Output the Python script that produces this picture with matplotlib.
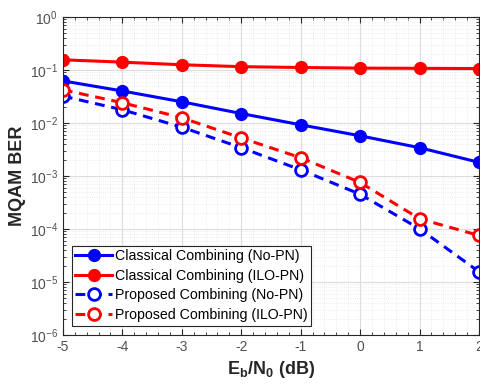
import matplotlib
matplotlib.use("Agg")
import matplotlib.pyplot as plt
from matplotlib.ticker import LogLocator, NullFormatter

plt.rcParams['font.family'] = ['Liberation Sans', 'DejaVu Sans']
plt.rcParams['mathtext.fontset'] = 'custom'
plt.rcParams['mathtext.rm'] = 'Liberation Sans'
plt.rcParams['mathtext.bf'] = 'Liberation Sans:bold'
plt.rcParams['mathtext.it'] = 'Liberation Sans:italic'
plt.rcParams['axes.unicode_minus'] = False

ebn0 = [-5, -4, -3, -2, -1, 0, 1, 2]
classical_nopn = [0.062, 0.040, 0.025, 0.015, 0.0092, 0.0057, 0.0034, 0.0018]
classical_ilo = [0.155, 0.14, 0.125, 0.115, 0.111, 0.108, 0.107, 0.106]
proposed_nopn = [0.032, 0.0177, 0.0083, 0.0034, 0.0013, 0.00045, 1.0e-4, 1.55e-5]
proposed_ilo = [0.042, 0.024, 0.0125, 0.0052, 0.0022, 0.00075, 1.55e-4, 7.5e-5]
labels = ["Classical Combining (No-PN)", "Classical Combining (ILO-PN)",
          "Proposed Combining (No-PN)", "Proposed Combining (ILO-PN)"]

fig = plt.figure(figsize=(4.8, 3.84), dpi=100)
ax = fig.add_axes([0.131, 0.128, 0.867, 0.828])

lw = 2.2
ms = 8.5
ax.semilogy(ebn0, classical_nopn, '-o', color='#0000ff', lw=lw, ms=ms, label=labels[0])
ax.semilogy(ebn0, classical_ilo, '-o', color='#ff0000', lw=lw, ms=ms, label=labels[1])
ax.semilogy(ebn0, proposed_nopn, '--o', color='#0000ff', lw=lw, ms=ms, mfc='white', mew=2, label=labels[2], dashes=(3.2, 2.2))
ax.semilogy(ebn0, proposed_ilo, '--o', color='#ff0000', lw=lw, ms=ms, mfc='white', mew=2, label=labels[3], dashes=(3.2, 2.2))

ax.set_xlim(-5, 2)
ax.set_ylim(1e-6, 1)
ax.set_xticks(ebn0)
ax.yaxis.set_major_locator(LogLocator(base=10, numticks=10))
ax.yaxis.set_minor_locator(LogLocator(base=10, subs=range(2, 10), numticks=100))
ax.yaxis.set_minor_formatter(NullFormatter())
ax.xaxis.set_minor_locator(matplotlib.ticker.AutoMinorLocator(5))

ax.grid(True, which='major', color='#dcdcdc', lw=0.8)
ax.grid(True, which='minor', color='#e6e6e6', lw=0.6, ls=':')
ax.set_axisbelow(True)
ax.tick_params(which='both', direction='in', top=True, right=True, colors='#262626', labelcolor='#505050', labelsize=10)
ax.tick_params(which='minor', length=2)
ax.tick_params(which='major', length=4)
for s in ax.spines.values():
    s.set_color('#262626')
    s.set_linewidth(0.8)

ax.set_xlabel(r'$\mathbf{E_b/N_0}$ (dB)', fontsize=13, fontweight='bold', labelpad=4, color='#262626')
ax.set_ylabel('MQAM BER', fontsize=13, fontweight='bold', labelpad=3, color='#262626')

leg = ax.legend(loc='lower left', bbox_to_anchor=(0.015, 0.02), fontsize=10.2, frameon=True, fancybox=False,
                edgecolor='#262626', framealpha=1, handlelength=2.6, borderpad=0.25, labelspacing=0.4,
                handletextpad=0.2, borderaxespad=0.2)
leg.get_frame().set_linewidth(0.8)

fig.savefig("out.png", dpi=100)
